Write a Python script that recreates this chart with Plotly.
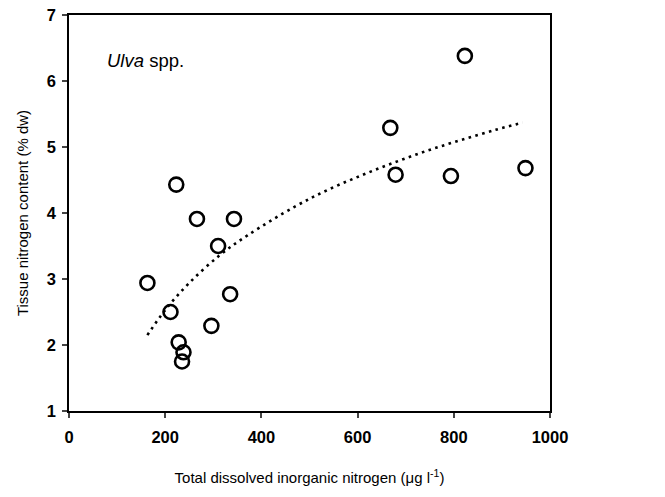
import plotly.graph_objects as go

din = [823, 668, 679, 794, 949, 223, 266, 343, 310, 163, 335, 211, 296, 228, 238, 235]
tissue_n = [6.38, 5.29, 4.58, 4.56, 4.68, 4.43, 3.91, 3.91, 3.50, 2.94, 2.77, 2.50, 2.29, 2.04, 1.89, 1.75]

# Dotted trend line
trend_x = [163, 200, 250, 315, 371, 468, 538, 608, 678, 747, 817, 887, 943]
trend_y = [2.15, 2.53, 2.94, 3.37, 3.66, 4.09, 4.35, 4.57, 4.77, 4.95, 5.11, 5.26, 5.37]

x_ticks = [0, 200, 400, 600, 800, 1000]
y_ticks = [1, 2, 3, 4, 5, 6, 7]

fig = go.Figure()
fig.add_trace(go.Scatter(
    x=trend_x, y=trend_y, mode="lines", line_shape="spline",
    line=dict(color="black", width=2.6, dash="2.6px,4.4px"),
    hoverinfo="skip", showlegend=False))
fig.add_trace(go.Scatter(
    x=din, y=tissue_n, mode="markers",
    marker=dict(symbol="circle-open", size=14, color="black",
                line=dict(color="black", width=2.6)),
    showlegend=False))

font_fam = "Liberation Sans, Arial, sans-serif"
fig.update_layout(
    width=665, height=497,
    margin=dict(l=61, r=123, t=7, b=94, autoexpand=False),
    paper_bgcolor="white", plot_bgcolor="white",
    font=dict(family=font_fam, color="black"),
    xaxis=dict(range=[0, 1000], tickvals=x_ticks, ticks="outside", ticklen=5,
               tickwidth=1.5, linecolor="black", linewidth=1.6, mirror=True,
               showgrid=False, zeroline=False, ticklabelstandoff=5,
               ticklabeloverflow="allow",
               tickfont=dict(size=16.5, weight="bold"), automargin=False,
               title=dict(text="Total dissolved inorganic nitrogen (μg l<sup>-1</sup>)",
                          font=dict(size=15), standoff=28)),
    yaxis=dict(range=[1, 7], tickvals=y_ticks, ticks="outside", ticklen=5,
               tickwidth=1.5, linecolor="black", linewidth=1.6, mirror=True,
               showgrid=False, zeroline=False, ticklabelstandoff=3,
               ticklabeloverflow="allow",
               tickfont=dict(size=16.5, weight="bold"), automargin=False,
               title=dict(text="Tissue nitrogen content (% dw)",
                          font=dict(size=15), standoff=14)),
    annotations=[dict(text="<i>Ulva</i> spp.", x=0.075, y=0.885,
                      xref="paper", yref="paper", xanchor="left", yanchor="middle",
                      showarrow=False, font=dict(size=18.5, family=font_fam))],
)
fig.write_html("out.html")
